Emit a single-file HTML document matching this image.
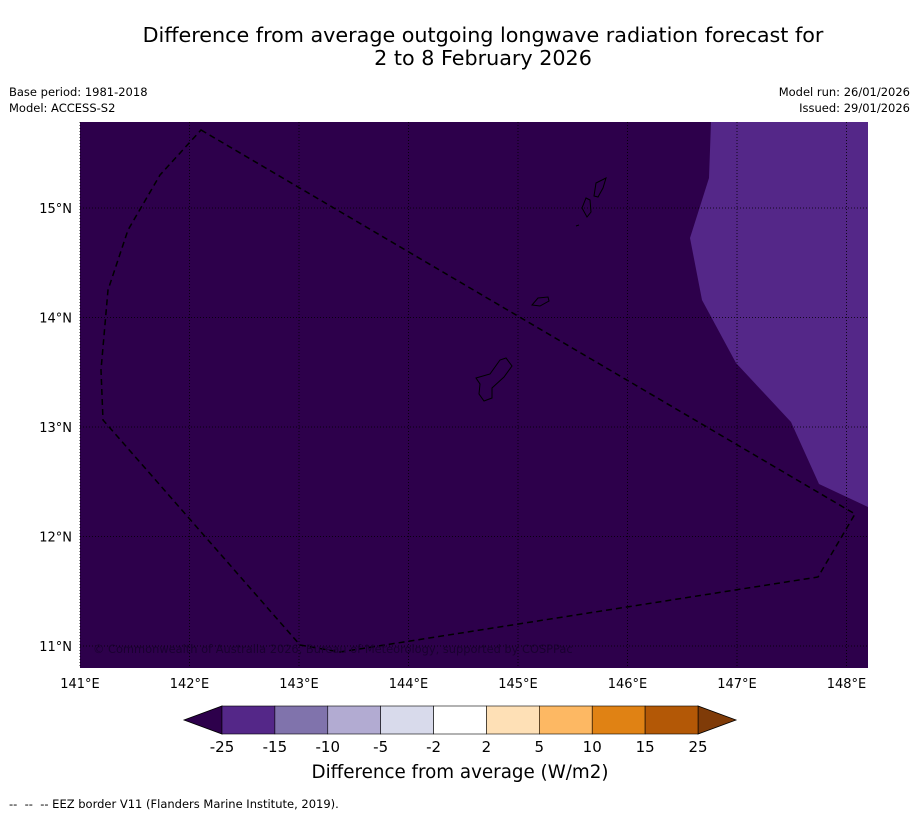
<!DOCTYPE html>
<html><head><meta charset="utf-8"><style>
body{margin:0;background:#fff;width:919px;height:816px;overflow:hidden;font-family:"Liberation Sans","DejaVu Sans",sans-serif}
svg text{font-family:"DejaVu Sans","Liberation Sans",sans-serif}
</style></head><body>
<svg id="chart" width="919" height="816" xmlns="http://www.w3.org/2000/svg">
<text x="483" y="42" font-size="20.7" text-anchor="middle">Difference from average outgoing longwave radiation forecast for</text>
<text x="483" y="65" font-size="20.7" text-anchor="middle">2 to 8 February 2026</text>
<text x="9" y="96" font-size="11.5">Base period: 1981-2018</text>
<text x="9" y="112" font-size="11.5">Model: ACCESS-S2</text>
<text x="910" y="96" font-size="11.5" text-anchor="end">Model run: 26/01/2026</text>
<text x="910" y="112" font-size="11.5" text-anchor="end">Issued: 29/01/2026</text>
<g id="map">
<rect x="80" y="122" width="788" height="546" fill="#2d004b"/>
<polygon fill="#542788" points="711,122 868,122 868,507 819,484 791,422 736,363 702,300 690,238 709,178"/>
<g id="grid"></g>
<g fill="none" stroke="#000" stroke-width="1">
<path d="M476,378 L490,374 L500,360 L506,358 L512,366 L504,377 L492,388 L492,398 L484,401 L479,394 L480,384 Z"/>
<path d="M532,305 L538,298 L548,297 L549,301 L540,306 Z"/>
<path d="M582,208 L586,198 L590,200 L591,212 L587,217 Z"/>
<path d="M594,196 L596,183 L606,178 L603,188 L598,197 Z"/>
<path d="M576,226 L579,225"/>
</g>
<path fill="none" stroke="#000" stroke-width="1.5" stroke-dasharray="6,4" d="M201,130 L855,514 L818,577 L340,652 L300,645 L103,420 L101,370 L108,290 L128,230 L160,175 Z"/>
<text x="93" y="653" font-size="11.4" fill="#1a0030">© Commonwealth of Australia 2026, Bureau of Meteorology, supported by COSPPac</text>
</g>
<g id="axes"></g>
<g id="cbar"></g>
<text x="460" y="778" font-size="18.3" text-anchor="middle">Difference from average (W/m2)</text>
<text x="9" y="808" font-size="11.5" xml:space="preserve">--  --  -- EEZ border V11 (Flanders Marine Institute, 2019).</text>
</svg>
<script>
const lonTicks=[141,142,143,144,145,146,147,148];
const latTicks=[11,12,13,14,15];
const cbarLevels=["-25","-15","-10","-5","-2","2","5","10","15","25"];
const cbarColors=["#542788","#8073ac","#b2abd2","#d8daeb","#ffffff","#fee0b6","#fdb863","#e08214","#b35806"];
const cbarExtend=["#2d004b","#7f3b08"];
const NS="http://www.w3.org/2000/svg";
function xLon(l){return 80+(l-141)*109.5;}
function yLat(l){return 646-(l-11)*109.5;}
function mk(t,a,p){const e=document.createElementNS(NS,t);for(const k in a)e.setAttribute(k,a[k]);p.appendChild(e);return e;}
const grid=document.getElementById('grid'),axes=document.getElementById('axes'),cb=document.getElementById('cbar');
lonTicks.forEach(l=>{const x=xLon(l);
 const g=mk('line',{x1:x,x2:x,y1:122,y2:668,stroke:'#000','stroke-width':0.8,'stroke-dasharray':'1,2'},grid);
 
 
 const t=mk('text',{x:x,y:688,'font-size':13,'text-anchor':'middle'},axes);t.textContent=l+'°E';
 
 });
latTicks.forEach(l=>{const y=yLat(l);
 const g=mk('line',{x1:80,x2:868,y1:y,y2:y,stroke:'#000','stroke-width':0.8,'stroke-dasharray':'1,2'},grid);
 
 
 const t=mk('text',{x:72,y:y+5,'font-size':13,'text-anchor':'end'},axes);t.textContent=l+'°N';
 
 });
const x0=222,x1=698,y0=706,y1=734,w=(x1-x0)/cbarColors.length;
const la=mk('polygon',{points:`${x0},${y0} ${x0},${y1} 184,${(y0+y1)/2}`,fill:cbarExtend[0],stroke:'#000','stroke-width':0.8},cb);


const ra=mk('polygon',{points:`${x1},${y0} ${x1},${y1} 736,${(y0+y1)/2}`,fill:cbarExtend[1],stroke:'#000','stroke-width':0.8},cb);


cbarColors.forEach((c,i)=>{const r=mk('rect',{x:x0+i*w,y:y0,width:w,height:y1-y0,fill:c,stroke:'#000','stroke-width':0.6},cb);
 
 });
cbarLevels.forEach((v,i)=>{const t=mk('text',{x:x0+i*w,y:752,'font-size':15,'text-anchor':'middle'},cb);t.textContent=v;
 
 });
</script>
</body></html>
